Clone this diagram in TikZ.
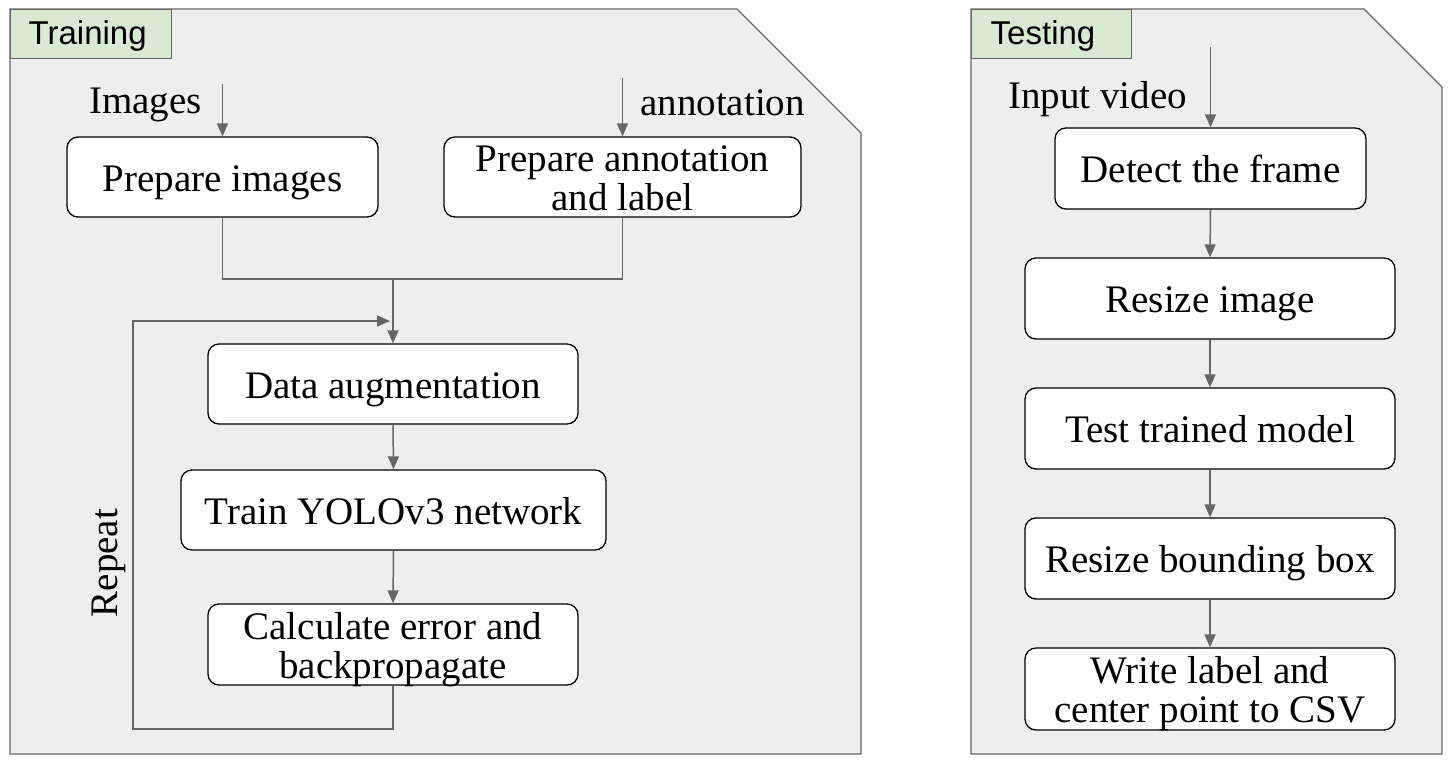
\documentclass[tikz,border=0pt]{standalone}
\usepackage{fontspec}
\setmainfont{Liberation Serif}
\newfontfamily\tabfont{Liberation Sans}
\usetikzlibrary{arrows.meta}
\definecolor{linegray}{HTML}{666666}
\definecolor{panelgray}{HTML}{EEEEEE}
\definecolor{tabgreen}{HTML}{D9EAD3}
\begin{document}
\begin{tikzpicture}[x=1pt,y=-1pt,
 panel/.style={draw=linegray, fill=panelgray, line width=1.4pt},
 tab/.style={draw=linegray, fill=tabgreen, line width=1.4pt, anchor=north west, inner sep=0pt, minimum height=49pt, align=left, text height=24pt, text depth=4pt, font=\tabfont\fontsize{33}{33}\selectfont},
 box/.style={draw=black, fill=white, rounded corners=11pt, line width=1.3pt, font=\fontsize{39}{39}\selectfont, align=center, inner sep=0pt, minimum height=80pt, text height=32pt, text depth=4pt},
 boxtwo/.style={box, text height=71pt, text depth=4pt},
 lbl/.style={font=\fontsize{39}{39}\selectfont, inner sep=0pt},
 conn/.style={draw=linegray, line width=1.5pt},
 arr/.style={conn, -{Triangle[length=13pt,width=11pt]}}
]
\useasboundingbox (0,0) rectangle (1452,764);
% panels
\draw[panel] (10,9) -- (737,9) -- (861,133) -- (861,754) -- (10,754) -- cycle;
\draw[panel] (971,9) -- (1364,9) -- (1442,87) -- (1442,754) -- (971,754) -- cycle;
\node[tab, minimum width=161pt, text width=125pt] (ttrain) at (10,9) {Training};
\node[tab, minimum width=160pt, text width=122pt] (ttest) at (971,9) {Testing};

% training
\node[box, minimum width=311pt] (pi) at (222.5,177) {Prepare images};
\node[boxtwo, minimum width=357pt] (pa) at (622.5,177) {Prepare annotation\\and label};
\node[box, minimum width=370pt] (da) at (393,384) {Data augmentation};
\node[box, minimum width=425pt] (ty) at (393.5,510) {Train YOLOv3 network};
\node[boxtwo, minimum width=370pt, minimum height=81pt] (ce) at (393,644.5) {Calculate error and\\backpropagate};

\node[lbl, anchor=base west] (limg) at (89,113) {Images};
\node[lbl, anchor=base west] (lann) at (640,115) {annotation};
\node[lbl, anchor=base, rotate=90] (lrep) at (117,563) {Repeat};

\coordinate (iin) at (222.5,84);
\coordinate (ain) at (622.5,78);
\coordinate (j) at (393,279);
\coordinate (lb) at (133,729);
\coordinate (lt) at (133,321);
\coordinate (le) at (390,321);

\draw[arr] (iin) -- (pi.north);
\draw[arr] (ain) -- (pa.north);
\draw[conn] (pi.south) |- (j) -| (pa.south);
\draw[arr] (j) -- (da.north);
\draw[arr] (da.south) -- (ty.north);
\draw[arr] (ty.south) -- (ce.north);
\draw[arr] (ce.south) |- (lb) -- (lt) -- (le);

% testing
\node[box, minimum width=311pt, minimum height=81pt] (df) at (1210.5,168.5) {Detect the frame};
\node[box, minimum width=370pt, minimum height=81pt] (ri) at (1210,298.5) {Resize image};
\node[box, minimum width=370pt, minimum height=81pt] (tm) at (1210,428.5) {Test trained model};
\node[box, minimum width=370pt, minimum height=81pt] (rb) at (1210,558.5) {Resize bounding box};
\node[boxtwo, minimum width=370pt, minimum height=82pt] (wl) at (1210,689) {Write label and\\center point to CSV};

\node[lbl, anchor=base west] (lvid) at (1008,108) {Input video};
\coordinate (vin) at (1210.5,47);

\draw[arr] (vin) -- (df.north);
\draw[arr] (df.south) -- (ri.north);
\draw[arr] (ri.south) -- (tm.north);
\draw[arr] (tm.south) -- (rb.north);
\draw[arr] (rb.south) -- (wl.north);
\end{tikzpicture}
\end{document}
